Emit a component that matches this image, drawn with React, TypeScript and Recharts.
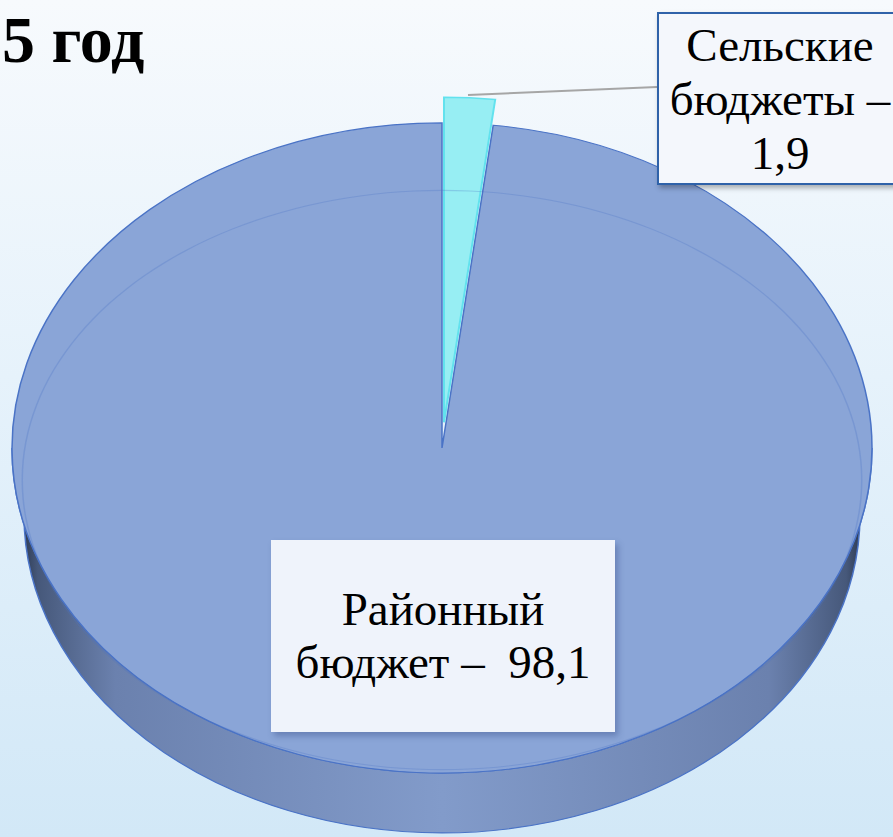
import React from 'react';
import { PieChart, Pie, Cell } from 'recharts';

// ---- data ----
const categories: string[] = ['Сельские бюджеты', 'Районный бюджет'];
const values: number[] = [1.9, 98.1];
const valueLabels: string[] = ['1,9', '98,1'];
const title = '5 год';

const data = categories.map((name, i) => ({ name, value: values[i] }));
const ringData = [{ name: 'ring', value: 1 }];

// ---- layout ----
const W = 893;
const H = 837;
const SY = 0.756; // vertical squash for 3D look
const CX = 442;
const CY = 448 / SY;
const R = 430;
const BOTTOM_DY = 67 / SY; // bottom face centre offset
const BOTTOM_RX = 418;
const BOTTOM_RY = 318 / SY;
const EXPLODE = 34;

const TOP_FILL = '#8aa5d7';
const EDGE = '#4a73c6';
const CYAN = '#97eef3';
const CYAN_EDGE = '#62e2ee';

const SideShape = (p: any) => {
  const { cx, cy, outerRadius } = p;
  const v = p.value ?? p.payload?.value;
  if (v !== Math.max(...values)) return <g />;
  const r = outerRadius;
  const by = cy + BOTTOM_DY;
  const path = `M ${cx - r} ${cy} A ${r} ${r} 0 0 0 ${cx + r} ${cy} L ${cx + BOTTOM_RX} ${by} A ${BOTTOM_RX} ${BOTTOM_RY} 0 0 1 ${cx - BOTTOM_RX} ${by} Z`;
  return (
    <g>
      <defs>
        <linearGradient id="sideGrad" gradientUnits="userSpaceOnUse" x1={cx - r} y1={0} x2={cx + r} y2={0}>
          <stop offset="0" stopColor="#1c2536" />
          <stop offset="0.03" stopColor="#46587a" />
          <stop offset="0.12" stopColor="#6b81ae" />
          <stop offset="0.5" stopColor="#829bca" />
          <stop offset="0.88" stopColor="#6b81ae" />
          <stop offset="0.97" stopColor="#46587a" />
          <stop offset="1" stopColor="#1c2536" />
        </linearGradient>
      </defs>
      <path d={path} fill="url(#sideGrad)" stroke={EDGE} strokeWidth={1.5} />
    </g>
  );
};

const boxText: React.CSSProperties = {
  fontFamily: '"Liberation Serif", "Times New Roman", serif',
  fontSize: 47,
  color: '#000',
  textAlign: 'center',
  display: 'flex',
  flexDirection: 'column',
  justifyContent: 'center',
  alignItems: 'center',
  boxSizing: 'border-box',
  position: 'absolute',
};

export default function App() {
  const small = 0;
  const big = 1;
  return (
    <div
      style={{
        position: 'fixed',
        left: 0,
        top: 0,
        width: W,
        height: H,
        overflow: 'hidden',
        background: 'linear-gradient(180deg, #f7fafd 0%, #e6f2fb 45%, #d2e8f7 100%)',
      }}
    >
      {/* main pie, squashed vertically */}
      <div
        style={{
          position: 'absolute',
          left: 0,
          top: 0,
          width: W,
          height: H / SY,
          transform: `scaleY(${SY})`,
          transformOrigin: 'top left',
        }}
      >
        <PieChart width={W} height={H / SY} margin={{ top: 0, right: 0, bottom: 0, left: 0 }}>
          <Pie
            data={data}
            dataKey="value"
            cx={CX}
            cy={CY}
            outerRadius={R}
            startAngle={90}
            endAngle={-270}
            isAnimationActive={false}
            shape={SideShape as any}
          >
            {data.map((_, i) => (
              <Cell key={i} fill={'#7a90bd'} stroke="none" />
            ))}
          </Pie>
          <Pie
            data={data}
            dataKey="value"
            cx={CX}
            cy={CY}
            outerRadius={R}
            startAngle={90}
            endAngle={-270}
            isAnimationActive={false}
          >
            {data.map((_, i) => (
              <Cell
                key={i}
                fill={i === big ? TOP_FILL : 'none'}
                stroke={i === big ? EDGE : 'none'}
                strokeWidth={1.5}
              />
            ))}
          </Pie>
          <Pie
            data={data}
            dataKey="value"
            cx={CX + 2}
            cy={CY - EXPLODE}
            outerRadius={R}
            startAngle={90}
            endAngle={-270}
            isAnimationActive={false}
          >
            {data.map((_, i) => (
              <Cell
                key={i}
                fill={i === small ? CYAN : 'none'}
                stroke={i === small ? CYAN_EDGE : 'none'}
                strokeWidth={2}
              />
            ))}
          </Pie>
        </PieChart>
      </div>

      {/* faint inner bevel ring */}
      <div
        style={{
          position: 'absolute',
          left: 0,
          top: 0,
          width: W,
          height: H / 0.69,
          transform: 'scaleY(0.69)',
          transformOrigin: 'top left',
          pointerEvents: 'none',
        }}
      >
        <PieChart width={W} height={H / 0.69} margin={{ top: 0, right: 0, bottom: 0, left: 0 }}>
          <Pie
            data={ringData}
            dataKey="value"
            cx={CX}
            cy={480 / 0.69}
            innerRadius={419}
            outerRadius={420.5}
            startAngle={90}
            endAngle={-270}
            isAnimationActive={false}
          >
            <Cell fill="rgba(74,115,198,0.28)" stroke="none" />
          </Pie>
        </PieChart>
      </div>

      {/* leader line */}
      <svg width={W} height={H} style={{ position: 'absolute', left: 0, top: 0, pointerEvents: 'none' }}>
        <line x1={468} y1={95} x2={657} y2={87} stroke="#a6a6a6" strokeWidth={2} />
      </svg>

      {/* title */}
      <div
        style={{
          position: 'absolute',
          left: 2,
          top: 7,
          fontFamily: '"Liberation Serif", "Times New Roman", serif',
          fontWeight: 'bold',
          fontSize: 66,
          lineHeight: '66px',
          color: '#000',
          whiteSpace: 'nowrap',
        }}
      >
        {title}
      </div>

      {/* label: small slice */}
      <div
        style={{
          ...boxText,
          left: 657,
          top: 12,
          width: 246,
          height: 173,
          background: '#f4f7fc',
          border: '2px solid #2f62a9',
          boxShadow: '2px 3px 5px rgba(0,0,0,0.3)',
          lineHeight: '54px',
        }}
      >
        <div>Сельские</div>
        <div>бюджеты –</div>
        <div>{valueLabels[small]}</div>
      </div>

      {/* label: big slice */}
      <div
        style={{
          ...boxText,
          left: 271,
          top: 540,
          width: 344,
          height: 192,
          background: '#eff3fb',
          boxShadow: '3px 4px 6px rgba(40,60,120,0.35)',
          lineHeight: '53px',
        }}
      >
        <div>Районный</div>
        <div style={{ whiteSpace: 'pre' }}>{`бюджет –  ${valueLabels[big]}`}</div>
      </div>
    </div>
  );
}
